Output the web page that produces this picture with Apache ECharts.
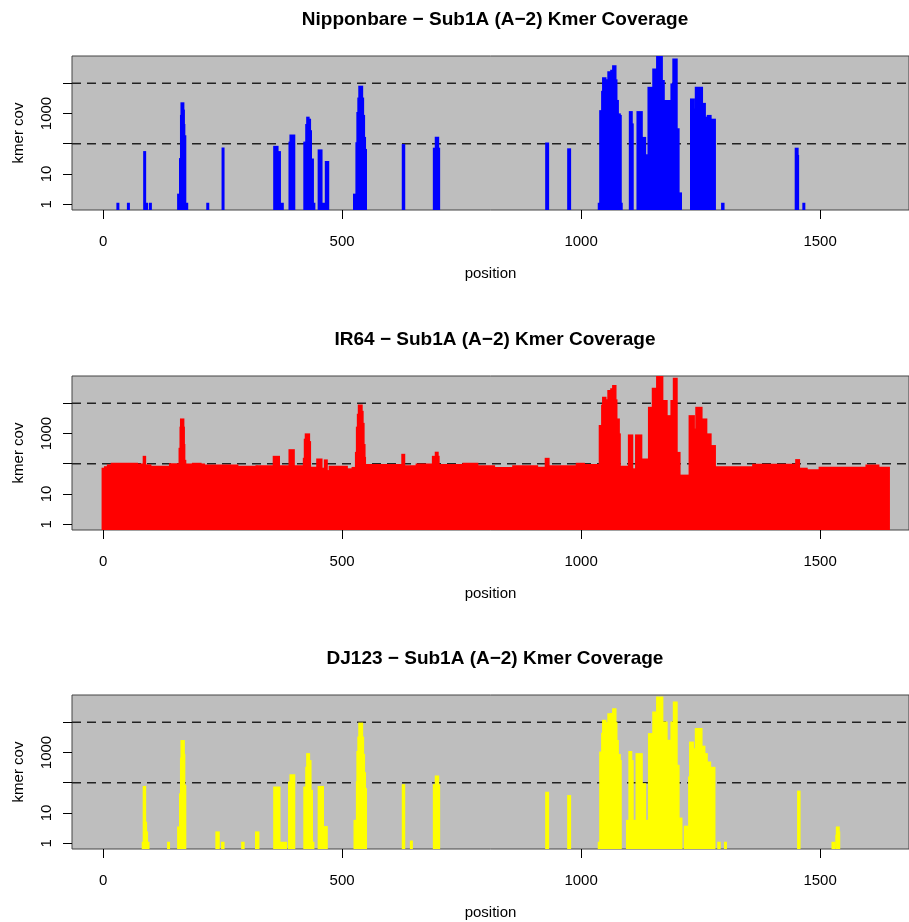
<!DOCTYPE html>
<html><head><meta charset="utf-8">
<script src="https://cdn.jsdelivr.net/npm/echarts@6/dist/echarts.min.js"></script>
<style>html,body{margin:0;padding:0;background:#fff}#chart{width:909px;height:922px}</style>
</head><body><div id="chart"></div>
<script>
// ---- data (position from, position to, kmer coverage) ----
const panelTitles = [
  'Nipponbare \u2212 Sub1A (A\u22122) Kmer Coverage',
  'IR64 \u2212 Sub1A (A\u22122) Kmer Coverage',
  'DJ123 \u2212 Sub1A (A\u22122) Kmer Coverage'
];
const xTicks = [0, 500, 1000, 1500];
const yTicks = [1, 10, 100, 1000, 10000];
const yTickLabels = [1, 10, 1000];
const thresholds = [100, 10000];
const xAxisName = 'position';
const yAxisName = 'kmer cov';

const nipponbare = [
  [31,31,1],[53,53,1],[87,87,51],[91,91,1],[99,99,1],
  [158,161,2],[162,163,30],[164,164,800],[165,167,2090],[168,168,1200],[169,169,400],[170,171,170],[172,175,1],
  [219,219,1],[251,251,67],
  [359,364,76],[365,369,51],[370,375,1],
  [391,392,105],[393,399,180],
  [422,425,105],[426,427,400],[428,429,700],[430,432,600],[433,434,250],[435,438,29],[439,441,1],
  [452,456,58],[457,462,1],[467,470,24],
  [526,530,2],[531,532,100],[533,534,1000],[535,536,3000],[537,541,7400],[542,543,3000],[544,545,800],[546,547,150],[548,549,60],
  [628,629,87],
  [693,696,66],[697,700,152],[701,702,66],
  [928,930,98],[974,976,63],
  [1038,1040,1],[1041,1044,1150],[1045,1046,5000],[1047,1050,14000],[1051,1054,11000],[1055,1057,12000],[1058,1063,22000],[1064,1067,25000],[1068,1071,35000],[1072,1073,12000],[1074,1076,2500],[1077,1080,900],[1081,1082,800],[1083,1084,1],
  [1103,1105,1070],[1106,1107,420],
  [1119,1126,1070],[1127,1133,150],[1134,1141,40],
  [1142,1151,6800],[1152,1159,27500],[1160,1168,80000],[1169,1172,11300],[1173,1189,2500],[1190,1193,8800],[1194,1199,59000],[1200,1203,290],[1204,1208,2.2],
  [1231,1235,2800],[1236,1240,1300],[1241,1252,6800],[1253,1258,2000],[1259,1265,700],[1266,1270,800],[1271,1279,600],
  [1296,1297,1],[1450,1452,66],[1453,1453,38],[1466,1466,1]
];

const ir64 = [
  [0,4,66],[5,10,74],[11,18,85],[19,70,96],[71,85,91],[86,87,163],[88,98,85],[99,140,76],[141,160,93],
  [161,162,300],[163,163,1500],[164,167,2800],[168,168,1500],[169,169,400],[170,171,120],
  [172,188,91],[189,203,96],[204,210,91],[211,280,85],[281,321,76],[322,357,80],[358,367,163],[368,390,80],
  [391,398,270],[399,420,80],[421,422,140],[423,424,600],[425,430,900],[431,432,500],[433,448,71],
  [449,456,133],[457,464,66],[465,467,124],[468,474,55],[475,509,76],[510,522,63],[523,529,70],
  [530,531,220],[532,533,1500],[534,535,4000],[536,540,8100],[541,542,5000],[543,544,2000],[545,546,400],[547,547,150],
  [548,626,87],[627,629,190],[630,656,80],[657,690,91],[691,696,163],[697,699,223],[700,701,163],
  [702,754,87],[755,782,96],[783,817,80],[818,858,69],[859,907,80],[908,926,71],[927,931,140],[932,991,80],
  [992,1005,96],[1006,1039,87],
  [1040,1044,1700],[1045,1046,8000],[1047,1050,14700],[1051,1054,10500],[1055,1057,12000],[1058,1063,24300],[1064,1067,28000],[1068,1071,35600],[1072,1073,12000],[1074,1078,2800],[1079,1080,900],
  [1081,1100,76],[1101,1106,830],[1107,1115,63],[1116,1125,830],[1126,1142,133],
  [1143,1150,6800],[1151,1159,29000],[1160,1169,93000],[1170,1178,11300],[1179,1189,3600],[1190,1194,11300],[1195,1199,62000],[1200,1205,220],
  [1206,1227,39],[1228,1235,3600],[1236,1241,1300],[1242,1251,6800],[1252,1261,2800],[1262,1270,900],[1271,1279,370],
  [1280,1360,74],[1361,1450,89],[1451,1455,127],[1456,1471,66],[1472,1499,59],[1500,1597,71],[1598,1621,85],[1622,1643,71]
];

const dj123 = [
  [84,85,1],[86,87,70],[88,89,4.6],[90,91,2.2],[92,94,1],
  [137,137,1],
  [158,161,3.2],[162,163,40],[164,164,600],[165,168,2300],[169,169,800],[170,171,75],
  [238,241,2.2],[250,251,1],[292,293,1],[321,324,2.2],
  [359,368,67],[369,382,1],
  [390,392,98],[393,399,170],
  [422,425,67],[426,427,300],[428,430,850],[431,433,500],[434,436,52],[437,439,1],
  [452,459,70],[463,467,3.3],
  [527,531,5.3],[532,532,100],[533,534,1000],[535,536,3000],[537,541,8700],[542,543,3000],[544,545,800],[546,547,200],[548,549,60],
  [628,629,80],[645,645,1.1],
  [693,696,80],[697,700,155],[701,702,78],
  [928,930,45],[974,976,35],
  [1038,1040,1],[1041,1044,960],[1045,1046,4000],[1047,1050,10700],[1051,1054,8500],[1055,1057,9000],[1058,1063,17800],[1064,1067,18000],[1068,1071,26000],[1072,1073,9000],[1074,1076,2300],[1077,1080,800],[1081,1082,500],
  [1097,1100,5.3],[1102,1104,1000],[1105,1107,500],[1108,1115,5.3],
  [1117,1126,850],[1127,1133,86],[1134,1142,5.3],
  [1143,1151,3900],[1152,1159,20000],[1160,1169,63000],[1170,1178,9400],[1179,1189,2340],[1190,1194,9400],[1195,1199,43000],[1200,1203,350],[1204,1209,6.3],[1218,1222,3.4],
  [1227,1228,144],[1229,1233,2050],[1234,1240,1230],[1241,1251,5700],[1252,1257,1500],[1258,1262,850],[1263,1269,450],[1270,1278,300],
  [1288,1289,1],[1302,1302,1],[1455,1456,49],[1527,1529,1],[1535,1535,1.7],[1536,1538,3.2],[1539,1539,2.2]
];

const panelData = [nipponbare, ir64, dj123];
const panelColors = ['#0000FF', '#FF0000', '#FFFF00'];

// ---- layout ----
const FONT = '"Liberation Sans", Arial, Helvetica, sans-serif';
const gridTops = [56, 376, 695];
const gridH = 154, gridLeft = 72, gridW = 837;
const xMin = -65, xMax = 1686;
const yMinLog = -0.19, yMaxLog = 4.90;
const lineHalf = 1.5;

const chart = echarts.init(document.getElementById('chart'), null, {renderer: 'canvas'});

function makeRender(color) {
  return function (params, api) {
    const x0 = api.value(0), x1 = api.value(1), ly = api.value(2);
    const base = api.coord([x0, yMinLog]);
    const p0 = api.coord([x0, ly]);
    const p1 = api.coord([x1, ly]);
    const left = p0[0] - lineHalf, right = p1[0] + lineHalf;
    const top = p0[1] - lineHalf;
    const cs = params.coordSys;
    const shape = echarts.graphic.clipRectByRect(
      {x: left, y: top, width: right - left, height: base[1] - top},
      {x: cs.x, y: cs.y, width: cs.width, height: cs.height});
    if (!shape) return null;
    return {type: 'rect', shape: shape, style: {fill: color}};
  };
}

const grids = [], xAxes = [], yAxes = [], series = [], graphics = [];
panelData.forEach(function (data, i) {
  grids.push({left: gridLeft, top: gridTops[i], width: gridW, height: gridH,
    show: true, backgroundColor: '#BEBEBE', borderColor: '#444', borderWidth: 1});
  xAxes.push({type: 'value', gridIndex: i, min: xMin, max: xMax, position: 'bottom',
    axisLine: {show: false, onZero: false}, splitLine: {show: false},
    axisTick: {show: true, inside: false, length: 9, customValues: xTicks, lineStyle: {color: '#000', width: 1}},
    axisLabel: {customValues: xTicks, margin: 24, fontSize: 15, fontFamily: FONT, color: '#000',
      formatter: function (v) { return String(v); }},
    name: xAxisName, nameLocation: 'middle', nameGap: 56,
    nameTextStyle: {fontSize: 15, fontFamily: FONT, color: '#000'}});
  yAxes.push({type: 'value', gridIndex: i, min: yMinLog, max: yMaxLog, position: 'left',
    axisLine: {show: false, onZero: false}, splitLine: {show: false},
    axisTick: {show: true, inside: false, length: 9, customValues: yTicks.map(Math.log10), lineStyle: {color: '#000', width: 1}},
    axisLabel: {customValues: yTickLabels.map(Math.log10), rotate: 90, margin: 18, fontSize: 15, fontFamily: FONT, color: '#000',
      formatter: function (v) { return String(Math.round(Math.pow(10, v))); }},
    name: yAxisName, nameLocation: 'middle', nameGap: 46, nameRotate: 90,
    nameTextStyle: {fontSize: 15, fontFamily: FONT, color: '#000'}});
  // dashed reference lines (drawn beneath the coverage marks)
  thresholds.forEach(function (t) {
    series.push({type: 'line', xAxisIndex: i, yAxisIndex: i, z: 1, silent: true, animation: false,
      symbol: 'none', lineStyle: {color: '#222', width: 1.5, type: [9, 6]},
      data: [[xMin, Math.log10(t)], [xMax, Math.log10(t)]]});
  });
  series.push({type: 'custom', xAxisIndex: i, yAxisIndex: i,
    renderItem: makeRender(panelColors[i]),
    encode: {x: [0, 1], y: 2},
    data: data.map(function (d) { return [d[0], d[1], Math.log10(d[2])]; }),
    silent: true, animation: false, z: 3});
  graphics.push({type: 'text', x: 495, y: gridTops[i] - 36,
    style: {text: panelTitles[i], font: 'bold 19px ' + FONT, fill: '#000', align: 'center', verticalAlign: 'middle'}});
});

chart.setOption({
  animation: false,
  backgroundColor: '#fff',
  grid: grids, xAxis: xAxes, yAxis: yAxes, series: series, graphic: graphics
});
</script></body></html>
